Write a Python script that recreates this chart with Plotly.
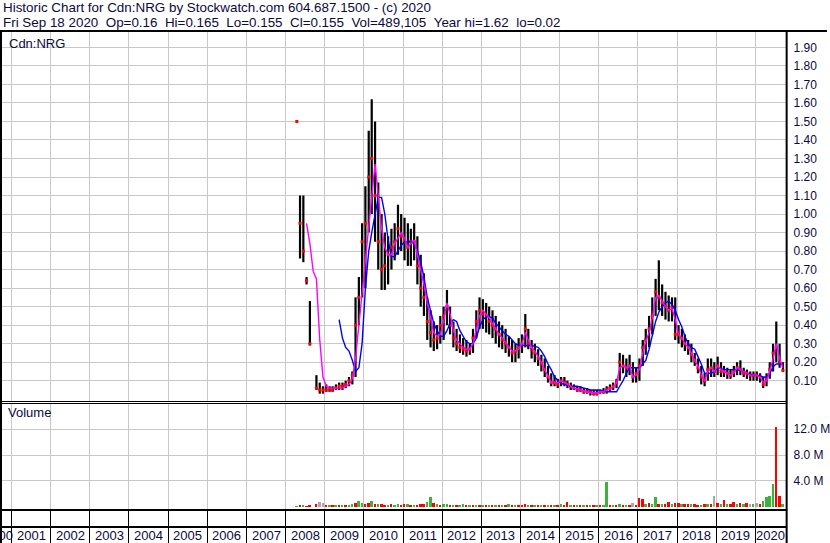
import pandas as pd
import plotly.graph_objects as go

# ---------------- data (monthly, Apr 2008 .. Sep 2020) ----------------
months = pd.date_range("2008-04-01", "2020-09-01", freq="MS") + pd.Timedelta(days=14)

price_hi = [
    1.50, 1.10, 1.10, 0.66, 0.53, None, 0.13, 0.09, 0.07,                   # 2008 Apr-Dec
    0.08, 0.07, 0.07, 0.08, 0.09, 0.09, 0.10, 0.12, 0.15, 0.55, 0.66, 0.95,  # 2009
    1.15, 1.45, 1.62, 1.50, 1.17, 1.00, 0.90, 0.88, 0.92, 0.95, 1.05, 1.00,  # 2010
    0.98, 0.95, 0.92, 0.95, 0.88, 0.78, 0.68, 0.55, 0.48, 0.42, 0.40, 0.45,  # 2011
    0.50, 0.59, 0.50, 0.42, 0.38, 0.35, 0.33, 0.32, 0.30, 0.38, 0.48, 0.55,  # 2012
    0.54, 0.52, 0.50, 0.48, 0.45, 0.42, 0.40, 0.38, 0.34, 0.32, 0.30, 0.33,  # 2013
    0.35, 0.46, 0.38, 0.32, 0.30, 0.27, 0.24, 0.22, 0.18, 0.14, 0.13, 0.11,  # 2014
    0.12, 0.12, 0.10, 0.09, 0.08, 0.07, 0.07, 0.06, 0.06, 0.05, 0.05, 0.05,  # 2015
    0.05, 0.06, 0.07, 0.08, 0.09, 0.11, 0.25, 0.24, 0.22, 0.24, 0.20, 0.17,  # 2016
    0.22, 0.32, 0.38, 0.45, 0.55, 0.65, 0.75, 0.62, 0.58, 0.56, 0.55, 0.55,  # 2017
    0.40, 0.38, 0.35, 0.32, 0.30, 0.25, 0.22, 0.18, 0.14, 0.22, 0.22, 0.20,  # 2018
    0.23, 0.20, 0.18, 0.17, 0.16, 0.18, 0.20, 0.21, 0.17, 0.16, 0.15, 0.15,  # 2019
    0.15, 0.14, 0.12, 0.14, 0.20, 0.30, 0.42, 0.30, 0.20,                    # 2020 Jan-Sep
]
price_lo = [
    1.50, 0.76, 0.74, 0.62, 0.29, None, 0.05, 0.03, 0.03,
    0.04, 0.04, 0.04, 0.05, 0.05, 0.05, 0.06, 0.07, 0.08, 0.12, 0.40, 0.55,
    0.60, 0.90, 1.00, 0.85, 0.70, 0.59, 0.59, 0.62, 0.70, 0.75, 0.78, 0.80,
    0.75, 0.72, 0.72, 0.75, 0.62, 0.50, 0.45, 0.32, 0.28, 0.26, 0.27, 0.30,
    0.32, 0.40, 0.35, 0.28, 0.26, 0.25, 0.24, 0.23, 0.24, 0.25, 0.33, 0.38,
    0.38, 0.36, 0.35, 0.33, 0.30, 0.28, 0.27, 0.25, 0.23, 0.20, 0.20, 0.22,
    0.25, 0.28, 0.27, 0.22, 0.20, 0.18, 0.15, 0.12, 0.09, 0.07, 0.07, 0.06,
    0.07, 0.07, 0.06, 0.05, 0.05, 0.04, 0.04, 0.03, 0.03, 0.02, 0.02, 0.02,
    0.03, 0.03, 0.03, 0.04, 0.05, 0.06, 0.10, 0.14, 0.12, 0.13, 0.09, 0.09,
    0.10, 0.18, 0.24, 0.28, 0.35, 0.45, 0.48, 0.45, 0.43, 0.42, 0.42, 0.32,
    0.30, 0.28, 0.26, 0.24, 0.20, 0.18, 0.14, 0.08, 0.07, 0.10, 0.12, 0.12,
    0.13, 0.12, 0.12, 0.11, 0.11, 0.12, 0.13, 0.13, 0.12, 0.11, 0.10, 0.10,
    0.10, 0.09, 0.06, 0.07, 0.11, 0.15, 0.20, 0.17, 0.155,
]
price_close = [
    1.50, 0.95, 0.80, 0.64, 0.30, None, 0.06, 0.05, 0.05,
    0.05, 0.05, 0.05, 0.06, 0.07, 0.07, 0.08, 0.10, 0.13, 0.40, 0.55, 0.85,
    0.95, 1.20, 1.30, 1.10, 0.85, 0.70, 0.72, 0.78, 0.82, 0.85, 0.92, 0.88,
    0.85, 0.82, 0.85, 0.85, 0.72, 0.60, 0.55, 0.42, 0.36, 0.32, 0.33, 0.40,
    0.45, 0.50, 0.40, 0.33, 0.30, 0.28, 0.27, 0.26, 0.27, 0.33, 0.42, 0.48,
    0.46, 0.45, 0.42, 0.40, 0.38, 0.35, 0.32, 0.30, 0.28, 0.25, 0.26, 0.28,
    0.30, 0.38, 0.30, 0.27, 0.25, 0.22, 0.19, 0.16, 0.12, 0.09, 0.09, 0.08,
    0.10, 0.09, 0.08, 0.07, 0.06, 0.05, 0.05, 0.04, 0.04, 0.04, 0.03, 0.03,
    0.04, 0.04, 0.05, 0.06, 0.07, 0.09, 0.20, 0.18, 0.17, 0.18, 0.12, 0.14,
    0.18, 0.28, 0.32, 0.38, 0.45, 0.58, 0.55, 0.52, 0.50, 0.48, 0.50, 0.35,
    0.35, 0.33, 0.30, 0.28, 0.24, 0.21, 0.17, 0.12, 0.10, 0.16, 0.17, 0.15,
    0.18, 0.15, 0.15, 0.14, 0.13, 0.15, 0.17, 0.16, 0.14, 0.14, 0.13, 0.13,
    0.13, 0.12, 0.08, 0.11, 0.16, 0.25, 0.28, 0.20, 0.155,
]
ma_short = [
    None, None, None, 0.95, 0.84, 0.69, 0.65, 0.32, 0.12,
    0.07, 0.06, 0.06, 0.06, 0.06, 0.06, 0.07, 0.08, 0.11, 0.22, 0.40, 0.58,
    0.75, 0.95, 1.12, 1.27, 1.10, 0.92, 0.82, 0.78, 0.78, 0.84, 0.87, 0.90,
    0.87, 0.82, 0.84, 0.86, 0.78, 0.70, 0.62, 0.52, 0.44, 0.36, 0.34, 0.35,
    0.42, 0.52, 0.46, 0.37, 0.32, 0.30, 0.28, 0.27, 0.27, 0.30, 0.38, 0.45,
    0.48, 0.46, 0.44, 0.41, 0.38, 0.35, 0.33, 0.31, 0.28, 0.26, 0.26, 0.27,
    0.30, 0.36, 0.32, 0.28, 0.26, 0.23, 0.20, 0.16, 0.12, 0.09, 0.09, 0.09,
    0.10, 0.09, 0.08, 0.07, 0.06, 0.055, 0.05, 0.045, 0.04, 0.035, 0.035, 0.035,
    0.04, 0.04, 0.05, 0.055, 0.065, 0.085, 0.17, 0.18, 0.17, 0.18, 0.12, 0.13,
    0.16, 0.25, 0.31, 0.36, 0.44, 0.55, 0.56, 0.53, 0.50, 0.48, 0.49, 0.43,
    0.35, 0.33, 0.30, 0.28, 0.25, 0.21, 0.18, 0.13, 0.10, 0.15, 0.17, 0.15,
    0.18, 0.16, 0.15, 0.14, 0.13, 0.14, 0.17, 0.16, 0.15, 0.14, 0.13, 0.13,
    0.13, 0.12, 0.09, 0.10, 0.15, 0.22, 0.30, 0.22, 0.17,
]
ma_long = [
    None, None, None, None, None, None, None, None, None,
    None, None, None, None, 0.43, 0.33, 0.28, 0.26, 0.21, 0.15, 0.17, 0.30,
    0.60, 0.80, 0.90, 1.00, 1.09, 1.09, 1.00, 0.86, 0.77, 0.77, 0.80, 0.83,
    0.85, 0.85, 0.85, 0.84, 0.80, 0.74, 0.66, 0.55, 0.47, 0.41, 0.37, 0.34,
    0.34, 0.37, 0.41, 0.43, 0.42, 0.37, 0.34, 0.31, 0.30, 0.30, 0.33, 0.39,
    0.43, 0.445, 0.445, 0.44, 0.41, 0.39, 0.37, 0.35, 0.34, 0.32, 0.30, 0.29,
    0.29, 0.29, 0.29, 0.29, 0.285, 0.28, 0.26, 0.23, 0.19, 0.16, 0.12, 0.10,
    0.085, 0.08, 0.075, 0.07, 0.07, 0.07, 0.065, 0.06, 0.055, 0.05, 0.05, 0.05,
    0.05, 0.045, 0.04, 0.04, 0.04, 0.04, 0.07, 0.10, 0.14, 0.17, 0.17, 0.17,
    0.17, 0.19, 0.21, 0.27, 0.34, 0.42, 0.47, 0.50, 0.52, 0.53, 0.51, 0.48,
    0.43, 0.39, 0.34, 0.30, 0.28, 0.27, 0.23, 0.19, 0.14, 0.14, 0.14, 0.15,
    0.17, 0.165, 0.16, 0.16, 0.16, 0.16, 0.16, 0.155, 0.15, 0.14, 0.135, 0.13,
    0.13, 0.125, 0.12, 0.12, 0.14, 0.175, 0.19, 0.19, 0.19,
]
volume_m = [
    0.05, 0.15, 0.2, 0.1, 0.2, 0.0, 0.5, 0.7, 0.6,
    0.3, 0.2, 0.15, 0.2, 0.2, 0.25, 0.3, 0.3, 0.4, 0.6, 0.86, 0.6,
    0.5, 0.6, 0.86, 0.5, 0.4, 0.4, 0.35, 0.3, 0.4, 0.3, 0.5, 0.35,
    0.4, 0.4, 0.3, 0.35, 0.3, 0.4, 0.5, 0.8, 1.5, 0.6, 0.4, 0.35,
    0.45, 0.4, 0.3, 0.3, 0.25, 0.3, 0.4, 0.3, 0.3, 0.25, 0.3, 0.3,
    0.3, 0.25, 0.2, 0.2, 0.2, 0.2, 0.25, 0.2, 0.4, 0.2, 0.2, 0.25,
    0.3, 0.4, 0.25, 0.2, 0.2, 0.2, 0.25, 0.3, 0.3, 0.25, 0.2, 0.3,
    0.4, 0.3, 0.7, 0.25, 0.2, 0.15, 0.15, 0.15, 0.2, 0.15, 0.2, 0.2,
    0.2, 0.15, 3.8, 0.3, 0.2, 0.3, 0.4, 0.3, 0.3, 0.35, 0.6, 0.3,
    1.4, 1.2, 0.5, 0.6, 0.4, 1.5, 0.5, 0.4, 0.5, 0.8, 0.5, 0.6,
    0.6, 0.5, 0.4, 0.4, 0.5, 0.4, 0.3, 0.3, 0.5, 0.4, 0.5, 1.6,
    0.6, 0.4, 1.0, 0.5, 0.4, 0.8, 0.5, 0.6, 0.4, 0.6, 0.5, 0.4,
    0.6, 0.5, 0.9, 1.5, 1.7, 3.6, 12.3, 1.6, 0.5,
]
volume_dir = list(
    "grgrrgrnn"
    "rgrgrgrggrgg"
    "rrgrgrrgrggr"
    "rgrgrrrggrgr"
    "ggrgrggrgrgr"
    "grgrgrgrgrgr"
    "rrgrgrgrgrgr"
    "grrgrgrgrgrg"
    "rggrgrgrgrnr"
    "rrgrggrgrrgr"
    "rgrrgrrgrgrn"
    "rgrgrrgrgrng"
    "nrggggrrg"
)

price_ticks = [0.1, 0.2, 0.3, 0.4, 0.5, 0.6, 0.7, 0.8, 0.9, 1.0,
               1.1, 1.2, 1.3, 1.4, 1.5, 1.6, 1.7, 1.8, 1.9]
volume_ticks = [4, 8, 12]
volume_tick_text = ["4.0 M", "8.0 M", "12.0 M"]
years = list(range(2000, 2021))

header1 = "Historic Chart for Cdn:NRG by Stockwatch.com 604.687.1500 - (c) 2020"
header2 = ("Fri Sep 18 2020  Op=0.16  Hi=0.165  Lo=0.155  Cl=0.155  "
           "Vol=489,105  Year hi=1.62  lo=0.02")

# ---------------- layout constants ----------------
W, H = 830, 543
X_RANGE = ["2000-10-03", "2020-10-15"]
NAVY = "#0a0a3c"
GRID = "#c8c8c8"
FONT = "Liberation Sans, Arial, sans-serif"
HEAD_SIZE = 13.4


def py(pix):  # pixel row (from top) -> paper y
    return (H - pix) / H


def px(pix):
    return pix / W


# ---------------- traces ----------------
seg_x, seg_y = [], []
for d, h, l in zip(months, price_hi, price_lo):
    if h is None:
        continue
    seg_x += [d, d, None]
    seg_y += [l, h, None]

colour_map = {"g": "#3cb43c", "r": "#ff0000", "n": "#a8a8a8"}

fig = go.Figure()
fig.add_trace(go.Scatter(x=seg_x, y=seg_y, mode="lines",
                         line=dict(color="black", width=2.2),
                         hoverinfo="skip", xaxis="x", yaxis="y"))
fig.add_trace(go.Scatter(x=months, y=price_close, mode="markers",
                         marker=dict(color="#ff0000", size=3, symbol="square"),
                         xaxis="x", yaxis="y"))
fig.add_trace(go.Scatter(x=months, y=ma_long, mode="lines",
                         line=dict(color="#0000ff", width=1.4),
                         connectgaps=False, xaxis="x", yaxis="y"))
fig.add_trace(go.Scatter(x=months, y=ma_short, mode="lines",
                         line=dict(color="#ff00ff", width=1.4),
                         connectgaps=False, xaxis="x", yaxis="y"))
fig.add_trace(go.Bar(x=months, y=volume_m,
                     marker=dict(color=[colour_map[c] for c in volume_dir], line_width=0),
                     width=18 * 86400000, xaxis="x2", yaxis="y2"))
fig.add_trace(go.Scatter(x=[], y=[], xaxis="x3", yaxis="y3"))

# year labels centred in the visible part of each year cell
annotations = []
x0 = pd.Timestamp(X_RANGE[0])
x1 = pd.Timestamp(X_RANGE[1])
for yv in years:
    a = max(pd.Timestamp(f"{yv}-01-01"), x0)
    b = min(pd.Timestamp(f"{yv + 1}-01-01"), x1)
    if yv == 2000:
        annotations.append(dict(x=pd.Timestamp("2001-01-28"), y=py(535), xref="x", yref="paper",
                                text=str(yv), showarrow=False, xanchor="right",
                                yanchor="middle",
                                font=dict(size=13, color=NAVY, family=FONT)))
        continue
    mid = a + (b - a) / 2
    annotations.append(dict(x=mid, y=py(535), xref="x", yref="paper", text=str(yv),
                            showarrow=False, xanchor="center", yanchor="middle",
                            font=dict(size=13, color=NAVY, family=FONT)))

annotations += [
    dict(x=px(1), y=py(8), xref="paper", yref="paper", text=header1, showarrow=False,
         xanchor="left", yanchor="middle",
         font=dict(size=HEAD_SIZE, color=NAVY, family=FONT)),
    dict(x=px(1), y=py(22), xref="paper", yref="paper",
         text=header2.replace("  ", "\u00a0\u00a0"), showarrow=False,
         xanchor="left", yanchor="middle",
         font=dict(size=HEAD_SIZE, color=NAVY, family=FONT)),
    dict(x=px(7), y=py(43), xref="paper", yref="paper", text="Cdn:NRG", showarrow=False,
         xanchor="left", yanchor="middle", font=dict(size=13, color=NAVY, family=FONT)),
    dict(x=px(6), y=py(413), xref="paper", yref="paper", text="Volume", showarrow=False,
         xanchor="left", yanchor="middle", font=dict(size=13, color=NAVY, family=FONT)),
]

shapes = [
    dict(type="line", xref="paper", yref="paper", x0=0, x1=1, y0=py(31), y1=py(31),
         line=dict(color="black", width=2)),
    dict(type="line", xref="paper", yref="paper", x0=px(1), x1=px(1), y0=0, y1=py(31),
         line=dict(color="black", width=2)),
    dict(type="line", xref="paper", yref="paper", x0=px(789.5), x1=px(789.5), y0=0, y1=py(31),
         line=dict(color="black", width=2)),
    dict(type="line", xref="paper", yref="paper", x0=0, x1=px(789), y0=py(401.5), y1=py(401.5),
         line=dict(color="black", width=1)),
    dict(type="line", xref="paper", yref="paper", x0=0, x1=px(789), y0=py(403.5), y1=py(403.5),
         line=dict(color="black", width=1)),
    dict(type="line", xref="paper", yref="paper", x0=0, x1=px(789), y0=py(510), y1=py(510),
         line=dict(color="black", width=2)),
    dict(type="line", xref="paper", yref="paper", x0=0, x1=px(789), y0=py(527), y1=py(527),
         line=dict(color="black", width=2)),
]

common_x = dict(type="date", range=X_RANGE, domain=[px(2), px(789)], showgrid=True,
                gridcolor=GRID, gridwidth=1, dtick="M12", tick0="2001-01-01",
                showticklabels=False, zeroline=False, showline=False, ticks="",
                fixedrange=True)
tick_font = dict(size=12, color=NAVY, family=FONT)

fig.update_layout(
    width=W, height=H, margin=dict(l=0, r=0, t=0, b=0),
    paper_bgcolor="white", plot_bgcolor="white", showlegend=False, bargap=0,
    xaxis=dict(common_x, anchor="y"),
    xaxis2=dict(common_x, anchor="y2", matches="x"),
    xaxis3=dict(common_x, anchor="y3", matches="x", gridcolor="black"),
    yaxis=dict(domain=[py(401), py(32)], range=[-0.0096, 1.983], side="right",
               anchor="x", tickvals=price_ticks,
               ticktext=[f"{v:.2f}" for v in price_ticks], showgrid=True,
               gridcolor=GRID, zeroline=False, showline=False, ticks="outside",
               ticklen=4, tickcolor="rgba(0,0,0,0)", tickfont=tick_font),
    yaxis2=dict(domain=[py(509), py(403)], range=[-0.34, 16.07], side="right",
                anchor="x2", tickvals=volume_ticks, ticktext=volume_tick_text,
                showgrid=True, gridcolor=GRID, zeroline=False, showline=False,
                ticks="outside", ticklen=4, tickcolor="rgba(0,0,0,0)",
                tickfont=tick_font),
    yaxis3=dict(domain=[0, py(510)], range=[0, 1], anchor="x3", showgrid=False,
                showticklabels=False, zeroline=False, ticks=""),
    annotations=annotations,
    shapes=shapes,
)

fig.write_html(
    "out.html",
    config={"displayModeBar": False},
    post_script="document.body.style.margin='0';document.body.style.padding='0';"
                "document.body.style.overflow='hidden';",
)
